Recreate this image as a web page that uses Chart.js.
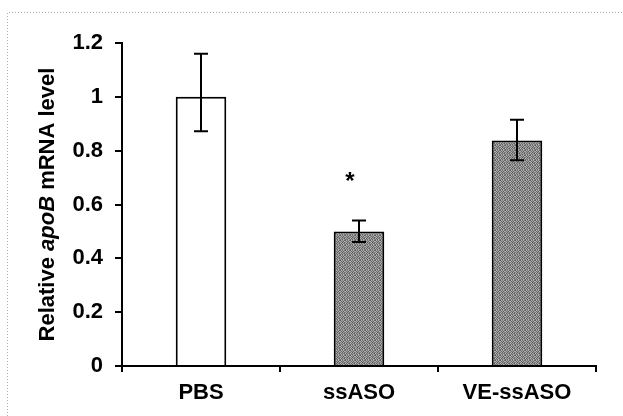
<!DOCTYPE html>
<html>
<head>
<meta charset="utf-8">
<script src="https://cdn.jsdelivr.net/npm/chart.js@4"></script>
<style>
  html, body { margin: 0; padding: 0; background: #fff; }
  #wrap { width: 623px; height: 416px; position: relative; }
</style>
</head>
<body>
<div id="wrap"><canvas id="bar-chart"></canvas></div>
<script>
const groups = ['PBS', 'ssASO', 'VE-ssASO'];
const levels = [1.0, 0.50, 0.838];
const errLow = [0.872, 0.461, 0.764];
const errHigh = [1.16, 0.541, 0.915];
const yTicks = [0, 0.2, 0.4, 0.6, 0.8, 1, 1.2];
const starAt = 0.70; // significance mark above ssASO

const FONT = '"Liberation Sans", Arial, sans-serif';

// Grainy gray fill for the treated groups
function stipple() {
    const c = document.createElement('canvas');
    c.width = 5; c.height = 5;
    const g = c.getContext('2d');
    const shades = [
        [0x5c, 0xb4, 0x78, 0xa6, 0x6c],
        [0xa8, 0x6a, 0x9c, 0x62, 0xb0],
        [0x7e, 0xae, 0x58, 0xa0, 0x74],
        [0xb6, 0x66, 0xa4, 0x80, 0x5e],
        [0x70, 0x9a, 0x64, 0xb2, 0x8c]
    ];
    for (let y = 0; y < 5; y++) {
        for (let x = 0; x < 5; x++) {
            const v = shades[y][x];
            g.fillStyle = `rgb(${v},${v},${v})`;
            g.fillRect(x, y, 1, 1);
        }
    }
    return g.createPattern(c, 'repeat');
}
const gray = stipple();

const errorBars = {
    id: 'errorBars',
    afterDatasetsDraw(chart) {
        const ctx = chart.ctx;
        const meta = chart.getDatasetMeta(0);
        const y = chart.scales.y;
        ctx.save();
        ctx.strokeStyle = '#000';
        ctx.lineWidth = 2;
        meta.data.forEach((bar, i) => {
            const top = y.getPixelForValue(errHigh[i]);
            const bot = y.getPixelForValue(errLow[i]);
            ctx.beginPath();
            ctx.moveTo(bar.x, top); ctx.lineTo(bar.x, bot);
            ctx.moveTo(bar.x - 7, top); ctx.lineTo(bar.x + 7, top);
            ctx.moveTo(bar.x - 7, bot); ctx.lineTo(bar.x + 7, bot);
            ctx.stroke();
        });
        // significance star
        ctx.fillStyle = '#000';
        ctx.font = 'bold 24px ' + FONT;
        ctx.textAlign = 'center';
        ctx.textBaseline = 'middle';
        ctx.fillText('*', meta.data[1].x - 9, y.getPixelForValue(starAt) + 5);
        ctx.restore();
    }
};

// Frame lines and the y title with italic gene name
const decor = {
    id: 'decor',
    beforeDraw(chart) {
        const ctx = chart.ctx;
        ctx.save();
        ctx.strokeStyle = '#aaa';
        ctx.lineWidth = 1;
        ctx.setLineDash([1, 2]);
        ctx.beginPath();
        ctx.moveTo(7.5, 416); ctx.lineTo(7.5, 12.5); ctx.lineTo(623, 12.5);
        ctx.stroke();
        ctx.restore();
    },
    afterDraw(chart) {
        const ctx = chart.ctx;
        const a = chart.chartArea;
        const parts = [
            ['Relative ', 'bold 22px ' + FONT],
            ['apoB', 'italic bold 22px ' + FONT],
            [' mRNA level', 'bold 22px ' + FONT]
        ];
        ctx.save();
        let total = 0;
        parts.forEach(p => { ctx.font = p[1]; total += ctx.measureText(p[0]).width; });
        ctx.translate(48, (a.top + a.bottom) / 2);
        ctx.rotate(-Math.PI / 2);
        ctx.fillStyle = '#000';
        ctx.textBaseline = 'middle';
        ctx.textAlign = 'left';
        let x = -total / 2;
        parts.forEach(p => {
            ctx.font = p[1];
            ctx.fillText(p[0], x, 0);
            x += ctx.measureText(p[0]).width;
        });
        ctx.restore();
    }
};

const ctxBar = document.getElementById('bar-chart').getContext('2d');
new Chart(ctxBar, {
    type: 'bar',
    data: {
        labels: groups,
        datasets: [{
            data: levels,
            backgroundColor: ['#ffffff', gray, gray],
            borderColor: '#000',
            borderWidth: 2,
            categoryPercentage: 1,
            barPercentage: 0.32
        }]
    },
    options: {
        responsive: true,
        maintainAspectRatio: false,
        animation: false,
        layout: { padding: { top: 43, right: 27, left: 0, bottom: 0 } },
        plugins: { legend: { display: false }, tooltip: { enabled: false } },
        scales: {
            x: {
                grid: { display: true, drawOnChartArea: false, offset: true, color: '#000', lineWidth: 2, tickLength: 6 },
                border: { color: '#000', width: 2 },
                ticks: { color: '#000', padding: 8, font: { family: FONT, size: 22, weight: 'bold' } },
                afterFit: s => { s.height = 50; }
            },
            y: {
                min: 0,
                max: 1.2,
                afterBuildTicks: s => { s.ticks = yTicks.map(v => ({ value: v })); },
                grid: { display: true, drawOnChartArea: false, color: '#000', lineWidth: 2, tickLength: 7 },
                border: { color: '#000', width: 2 },
                ticks: { color: '#000', padding: 12, font: { family: FONT, size: 22, weight: 'bold' }, callback: v => String(v) },
                afterFit: s => { s.width = 122; }
            }
        }
    },
    plugins: [decor, errorBars]
});
</script>
</body>
</html>
